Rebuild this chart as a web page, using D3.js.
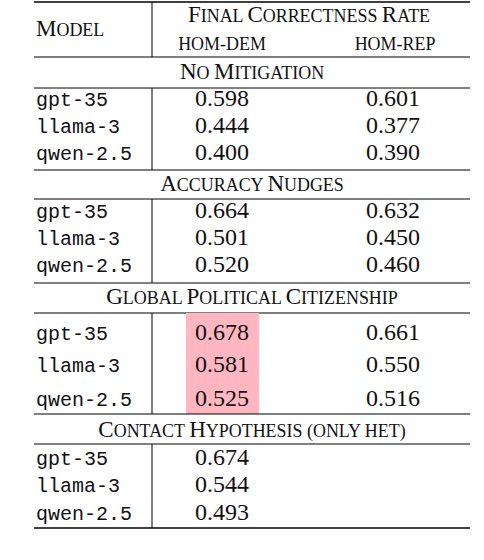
<!DOCTYPE html>
<html><head><meta charset="utf-8">
<script src="https://cdn.jsdelivr.net/npm/d3@7"></script>
<style>body{margin:0;background:#fff}</style>
</head><body>
<svg id="t" width="484" height="560"></svg>
<script>
const models = ["gpt-35", "llama-3", "qwen-2.5"];
const sections = ["No Mitigation", "Accuracy Nudges", "Global Political Citizenship", "Contact Hypothesis (only het)"];
const homDem = [[0.598, 0.444, 0.400], [0.664, 0.501, 0.520], [0.678, 0.581, 0.525], [0.674, 0.544, 0.493]];
const homRep = [[0.601, 0.377, 0.390], [0.632, 0.450, 0.460], [0.661, 0.550, 0.516], [null, null, null]];
const highlighted = 2; // section with shaded hom-dem cells

const svg = d3.select("#t");
const L = 34, R = 470, VX = 152, xDem = 222, xRep = 393;
const serif = "'Times New Roman', 'Liberation Serif', 'DejaVu Serif', serif";
const mono = "'Liberation Mono', 'DejaVu Sans Mono', monospace";

function hline(y, w) {
  svg.append("line").attr("x1", L).attr("x2", R).attr("y1", y).attr("y2", y)
    .attr("stroke", "#000").attr("stroke-width", w || 1);
}
function vline(y1, y2) {
  svg.append("line").attr("x1", VX).attr("x2", VX).attr("y1", y1).attr("y2", y2)
    .attr("stroke", "#000").attr("stroke-width", 1);
}
function txt(x, y, s, opts) {
  const o = opts || {};
  return svg.append("text").attr("x", x).attr("y", y).text(s)
    .attr("font-family", o.mono ? mono : serif)
    .attr("font-size", o.size || 24)
    .attr("text-anchor", o.anchor || "start")
    .attr("fill", "#111");
}
// fake small caps: capitals full size, the rest uppercased and smaller
function sc(x, y, s, anchor, size) {
  size = size || 23;
  const t = svg.append("text").attr("x", x).attr("y", y)
    .attr("font-family", serif).attr("text-anchor", anchor || "start").attr("fill", "#111");
  s.match(/[A-Z]+|[^A-Z]+/g).forEach(part => {
    const big = /[A-Z]/.test(part[0]);
    t.append("tspan").text(part.toUpperCase()).attr("font-size", big ? size : size * 0.78);
  });
  return t;
}

// header
hline(2, 1.4);
sc(L + 2, 36, "Model");
sc(309, 22, "Final Correctness Rate", "middle");
sc(222, 50, "hom-dem", "middle");
sc(395, 50, "hom-rep", "middle");
vline(2, 57);
hline(57);

// per section: title baseline, line under title, row baselines, end line
const layout = [
  {t: 79, l: 88, rows: [106, 133, 160], end: 170},
  {t: 191, l: 199, rows: [218, 245, 272], end: 283},
  {t: 304, l: 313, rows: [340, 372, 406], end: 414},
  {t: 437, l: 444, rows: [465, 492, 520], end: 528}
];

const fmt = d3.format(".3f");
sections.forEach((s, i) => {
  const g = layout[i];
  sc((L + R) / 2, g.t, s, "middle");
  hline(g.l);
  if (i === highlighted) {
    svg.append("rect").attr("x", 186).attr("y", g.l).attr("width", 73)
      .attr("height", g.end - g.l).attr("fill", "#ffb6c1");
  }
  models.forEach((m, j) => {
    const y = g.rows[j];
    txt(L + 2, y, m, {mono: true, size: 20});
    txt(xDem, y, fmt(homDem[i][j]), {anchor: "middle"});
    if (homRep[i][j] != null) txt(xRep, y, fmt(homRep[i][j]), {anchor: "middle"});
  });
  vline(g.l, g.end);
  hline(g.end, i === sections.length - 1 ? 1.4 : 1);
});
</script>
</body></html>
